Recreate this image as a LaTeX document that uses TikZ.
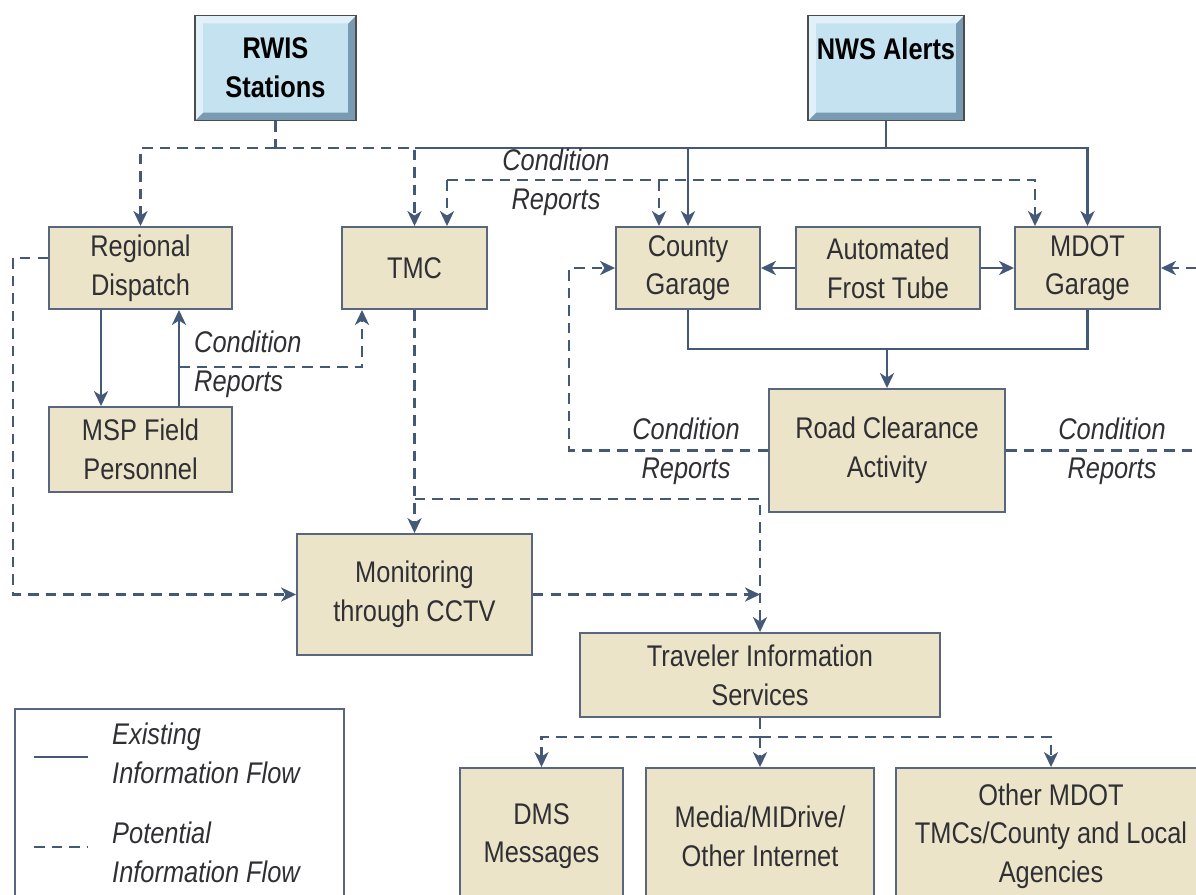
\documentclass[tikz,border=0pt]{standalone}
\usepackage{fontspec}
\setmainfont{Liberation Sans}[FakeStretch=0.85]
\usepackage{tikz}
\usetikzlibrary{positioning, arrows.meta}
\usepackage{xcolor}
\definecolor{boxfill}{RGB}{235,228,200}
\definecolor{boxline}{RGB}{88,102,128}
\definecolor{flowline}{RGB}{68,88,120}
\definecolor{textgray}{RGB}{48,48,52}
\definecolor{rwisblue}{RGB}{196,226,240}
\definecolor{bevdark}{RGB}{120,155,178}
\definecolor{bevlight}{RGB}{226,241,249}

\begin{document}
\begin{tikzpicture}[x=0.02cm, y=-0.02cm,
    font=\fontsize{17}{22}\selectfont,
    box/.style={rectangle, draw=boxline, fill=boxfill, line width=1.1pt, align=center, text=textgray, inner sep=0pt},
    source/.style={rectangle, draw=black!70, fill=rwisblue, line width=0.9pt, align=center, inner sep=0pt,
      font=\fontsize{17}{22}\selectfont\bfseries,
      path picture={
        \fill[bevdark] (path picture bounding box.south west) -- (path picture bounding box.south east)
          -- (path picture bounding box.north east) -- ([shift={(-4.5pt,-4.5pt)}]path picture bounding box.north east)
          -- ([shift={(-4.5pt,4.5pt)}]path picture bounding box.south east) -- ([shift={(4.5pt,4.5pt)}]path picture bounding box.south west) -- cycle;
        \fill[bevlight] (path picture bounding box.south west) -- (path picture bounding box.north west)
          -- (path picture bounding box.north east) -- ([shift={(-4.5pt,-4.5pt)}]path picture bounding box.north east)
          -- ([shift={(4.5pt,-4.5pt)}]path picture bounding box.north west) -- ([shift={(4.5pt,4.5pt)}]path picture bounding box.south west) -- cycle;
      }},
    existing/.style={draw=flowline, line width=1.5pt},
    potential/.style={existing, dash pattern=on 6pt off 4pt},
    flowtip/.style={-{Stealth[length=8.5pt, width=8pt, inset=2.5pt]}},
    note/.style={align=center, text=textgray, font=\fontsize{17}{22}\selectfont\itshape}
    ]
    \useasboundingbox (0,0) rectangle (1196,894);
    \clip (0,0) rectangle (1196,894);

    \node [source, minimum width=3.22cm, minimum height=2.1cm] (rwis) at (275.5,68) {RWIS\\Stations};
    \node [source, minimum width=3.12cm, minimum height=2.1cm] (nws) at (886,68) {NWS Alerts\\\mbox{}};

    \node [box, minimum width=3.66cm, minimum height=1.64cm] (dispatch) at (140.5,268) {Regional\\Dispatch};
    \node [box, minimum width=2.9cm, minimum height=1.64cm] (tmc) at (414.5,268) {TMC};
    \node [box, minimum width=2.88cm, minimum height=1.64cm] (county) at (688,268) {County\\Garage};
    \node [box, minimum width=3.68cm, minimum height=1.64cm] (frost) at (888,268) {Automated\\Frost Tube};
    \node [box, minimum width=2.9cm, minimum height=1.64cm] (mdot) at (1087.5,268) {MDOT\\Garage};
    \node [box, minimum width=3.66cm, minimum height=1.7cm] (msp) at (140.5,449.5) {MSP Field\\Personnel};
    \node [box, minimum width=4.72cm, minimum height=2.46cm] (road) at (887,450.5) {Road Clearance\\Activity};
    \node [box, minimum width=4.7cm, minimum height=2.42cm] (cctv) at (414.5,594.5) {Monitoring\\through CCTV};
    \node [box, minimum width=7.2cm, minimum height=1.68cm] (tis) at (760,675) {Traveler Information\\Services};
    \node [box, minimum width=3.26cm, minimum height=2.72cm] (dms) at (541.5,836) {DMS\\Messages};
    \node [box, minimum width=4.56cm, minimum height=2.72cm] (media) at (760,836) {Media/MIDrive/\\Other Internet};
    \node [box, minimum width=6.2cm, minimum height=2.72cm] (other) at (1051,836) {Other MDOT\\TMCs/County and Local\\Agencies};

    \coordinate (rbus) at (275.5,148);
    \coordinate (nbus) at (886,148);
    \coordinate (ct1) at (447,180);
    \coordinate (ct2) at (1035,180);
    \coordinate (ct3) at (659,180);
    \coordinate (gbus) at (887,349);
    \coordinate (rl) at (569,450);
    \coordinate (rr) at (1212,450);
    \coordinate (md) at (101,380);
    \coordinate (mu) at (179,367);
    \coordinate (tu) at (362,367);
    \coordinate (dl) at (13,258);
    \coordinate (tj) at (414.5,499);
    \coordinate (tb) at (760,737);

    \draw [potential] (rwis.south) -- (rbus);
    \draw [potential, flowtip] (rbus) -| (dispatch.north);
    \draw [potential, flowtip] (rbus) -| (tmc.north);
    \draw [existing] (nws.south) -- (nbus);
    \draw [existing] (nbus) -- (tmc.north |- nbus);
    \draw [existing, flowtip] (nbus) -| (county.north);
    \draw [existing, flowtip] (nbus) -| (mdot.north);

    \draw [potential, flowtip] (ct1) |- (ct2) -- (ct2 |- mdot.north);
    \draw [potential, flowtip] (ct1) -- (ct1 |- tmc.north);
    \draw [potential, flowtip] (ct3) -- (ct3 |- county.north);
    \node [note] (crtop) at (556,182) {Condition\\Reports};

    \draw [existing, flowtip] (frost) -- (county);
    \draw [existing, flowtip] (frost) -- (mdot);
    \draw [existing] (county.south) |- (gbus) -| (mdot.south);
    \draw [existing, flowtip] (gbus) -- (road.north);

    \draw [potential, flowtip] (road.west) -| (rl |- county.west) -- (county.west);
    \node [note] (crleft) at (686,451) {Condition\\Reports};
    \draw [potential, flowtip] (road.east) -| (rr |- mdot.east) -- (mdot.east);
    \node [note] (crright) at (1112,451) {Condition\\Reports};

    \draw [existing, flowtip] (md |- dispatch.south) -- (md |- msp.north);
    \draw [existing, flowtip] (mu |- msp.north) -- (mu |- dispatch.south);
    \draw [potential, flowtip] (mu) -| (tu |- tmc.south);
    \node [note, align=left, anchor=west] (crmsp) at (188,364) {Condition\\Reports};

    \draw [potential, flowtip] (dl -| dispatch.west) -- (dl) |- (cctv.west);
    \draw [potential, flowtip] (tmc.south) -- (cctv.north);
    \draw [potential, flowtip] (tj) -| (tis.north);
    \draw [potential, flowtip] (cctv.east) -- (cctv.east -| tis.north);

    \draw [potential] (tis.south) -- (tb);
    \draw [potential, flowtip] (tb) -| (dms.north);
    \draw [potential, flowtip] (tb) -- (media.north);
    \draw [potential, flowtip] (tb) -| (other.north);

    \draw [boxline, line width=1.1pt] (15,709) rectangle (344,920);
    \draw [existing] (34,757) -- (88,757);
    \draw [potential] (34,847) -- (88,847);
    \node [note, align=left, anchor=west] (legexist) at (106,753) {Existing\\Information Flow};
    \node [note, align=left, anchor=west] (legpot) at (106,852) {Potential\\Information Flow};
  \end{tikzpicture}
\end{document}
